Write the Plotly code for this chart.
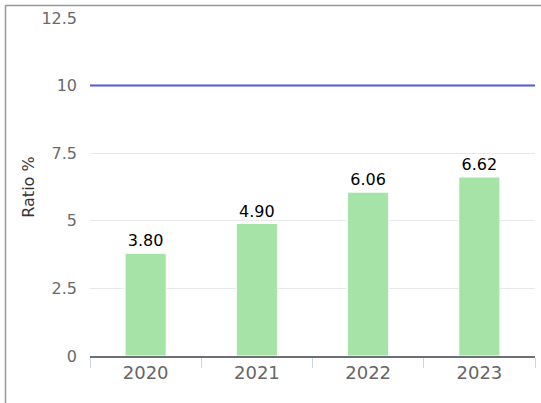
import plotly.graph_objects as go

years = ["2020", "2021", "2022", "2023"]
ratios = [3.80, 4.90, 6.06, 6.62]
threshold = 10
y_ticks = [0, 2.5, 5, 7.5, 10, 12.5]

W, H = 541, 403
ml, mr, mt, mb = 90, 6, 18, 47
pw, ph = W - ml - mr, H - mt - mb

def px_x(px):
    return (px - ml) / pw

def px_y(py):
    return 1 - (py - mt) / ph

fig = go.Figure()
fig.add_trace(go.Bar(
    x=years, y=ratios,
    marker=dict(color="#a6e3a6", line=dict(color="#ffffff", width=1)),
    text=[f"{v:.2f}" for v in ratios],
    textposition="outside",
    textfont=dict(family="DejaVu Sans", size=16, color="#000000"),
    cliponaxis=False,
    width=0.37,
))
fig.add_hline(y=threshold, line=dict(color="#5555dd", width=2))

# outer frame (left and top edges visible)
fig.add_shape(type="line", xref="paper", yref="paper",
              x0=px_x(5.5), x1=px_x(5.5), y0=px_y(H + 5), y1=px_y(5),
              line=dict(color="#999999", width=1.5))
fig.add_shape(type="line", xref="paper", yref="paper",
              x0=px_x(5), x1=px_x(W + 5), y0=px_y(5.5), y1=px_y(5.5),
              line=dict(color="#999999", width=1.5))

fig.update_layout(
    width=W, height=H,
    margin=dict(l=ml, r=mr, t=mt, b=mb, autoexpand=False),
    paper_bgcolor="white", plot_bgcolor="white",
    showlegend=False,
    font=dict(family="DejaVu Sans", color="#666666"),
    xaxis=dict(
        type="category", tickson="boundaries", ticks="outside", ticklen=10,
        tickcolor="#ccd6eb", showline=True, linecolor="#6e6e78", linewidth=1.5,
        showgrid=False, tickfont=dict(size=18, color="#666666"), automargin=False,
    ),
    yaxis=dict(
        range=[0, 12.5], tickvals=y_ticks, showgrid=True, gridcolor="#e8e8e8",
        zeroline=False, showline=False, ticklabelstandoff=12,
        tickfont=dict(size=16, color="#6a6a6a"), automargin=False,
        title=dict(text="Ratio %", font=dict(size=16, color="#333333"), standoff=2),
    ),
)

fig.write_html("out.html", config={"displayModeBar": False},
               post_script="document.body.style.margin='0';document.body.style.overflow='hidden';")
